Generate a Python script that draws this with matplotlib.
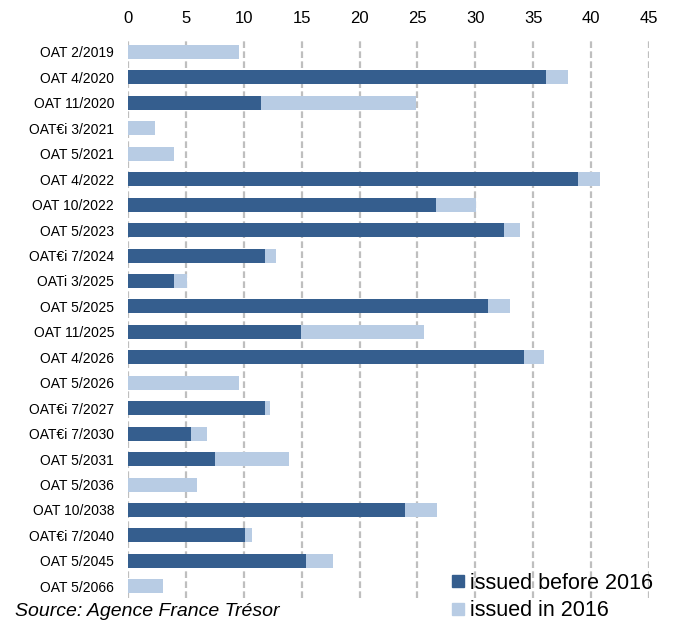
import numpy as np
import matplotlib
matplotlib.use('Agg')
import matplotlib.pyplot as plt
from matplotlib.lines import Line2D

plt.rcParams['font.family'] = ['Liberation Sans', 'DejaVu Sans']

bonds = ['OAT 2/2019', 'OAT 4/2020', 'OAT 11/2020', 'OAT€i 3/2021', 'OAT 5/2021',
         'OAT 4/2022', 'OAT 10/2022', 'OAT 5/2023', 'OAT€i 7/2024', 'OATi 3/2025',
         'OAT 5/2025', 'OAT 11/2025', 'OAT 4/2026', 'OAT 5/2026', 'OAT€i 7/2027',
         'OAT€i 7/2030', 'OAT 5/2031', 'OAT 5/2036', 'OAT 10/2038', 'OAT€i 7/2040',
         'OAT 5/2045', 'OAT 5/2066']

before_2016 = [0, 36.1, 11.5, 0, 0,
               38.9, 26.6, 32.5, 11.8, 4.0,
               31.1, 14.9, 34.2, 0, 11.8,
               5.4, 7.5, 0, 23.9, 10.1,
               15.4, 0]

total = [9.6, 38.0, 24.9, 2.3, 4.0,
         40.8, 30.1, 33.9, 12.8, 5.1,
         33.0, 25.6, 35.9, 9.55, 12.3,
         6.8, 13.9, 5.95, 26.65, 10.75,
         17.7, 3.0]

in_2016 = [t - b for t, b in zip(total, before_2016)]

dark = '#355E8E'
light = '#B8CCE4'

fig = plt.figure(figsize=(6.78, 6.24), dpi=100)
ax = fig.add_axes([128 / 678, 1 - 598 / 624, (649 - 128) / 678, (598 - 40) / 624])

y = np.arange(len(bonds))
ax.barh(y, before_2016, height=0.55, color=dark, zorder=3)
ax.barh(y, in_2016, left=before_2016, height=0.55, color=light, zorder=3)

ax.set_xlim(0, 45)
ax.set_ylim(21.46, -0.47)
ax.set_xticks(range(0, 46, 5))
ax.xaxis.tick_top()
ax.tick_params(axis='x', length=0, pad=10, labelsize=12)
ax.set_yticks(y)
ax.set_yticklabels(bonds)
ax.tick_params(axis='y', length=0, pad=10, labelsize=10)

for s in ax.spines.values():
    s.set_visible(False)
ax.grid(axis='x', color='#BFBFBF', linestyle=(0, (3, 1.5)), linewidth=1.6, zorder=0)

handles = [Line2D([], [], marker='s', linestyle='none', markersize=8, color=dark),
           Line2D([], [], marker='s', linestyle='none', markersize=8, color=light)]
fig.legend(handles, ['issued before 2016', 'issued in 2016'],
           loc='upper left', bbox_to_anchor=(452 / 678, 1 - 573 / 624),
           frameon=False, fontsize=15.5, handlelength=0.6, handletextpad=0.25,
           labelspacing=0.3, borderpad=0, borderaxespad=0)

fig.text(15 / 678, 1 - 603 / 624, 'Source: Agence France Trésor',
         fontsize=14, style='italic', va='top', ha='left')

fig.savefig('out.png', dpi=100)
